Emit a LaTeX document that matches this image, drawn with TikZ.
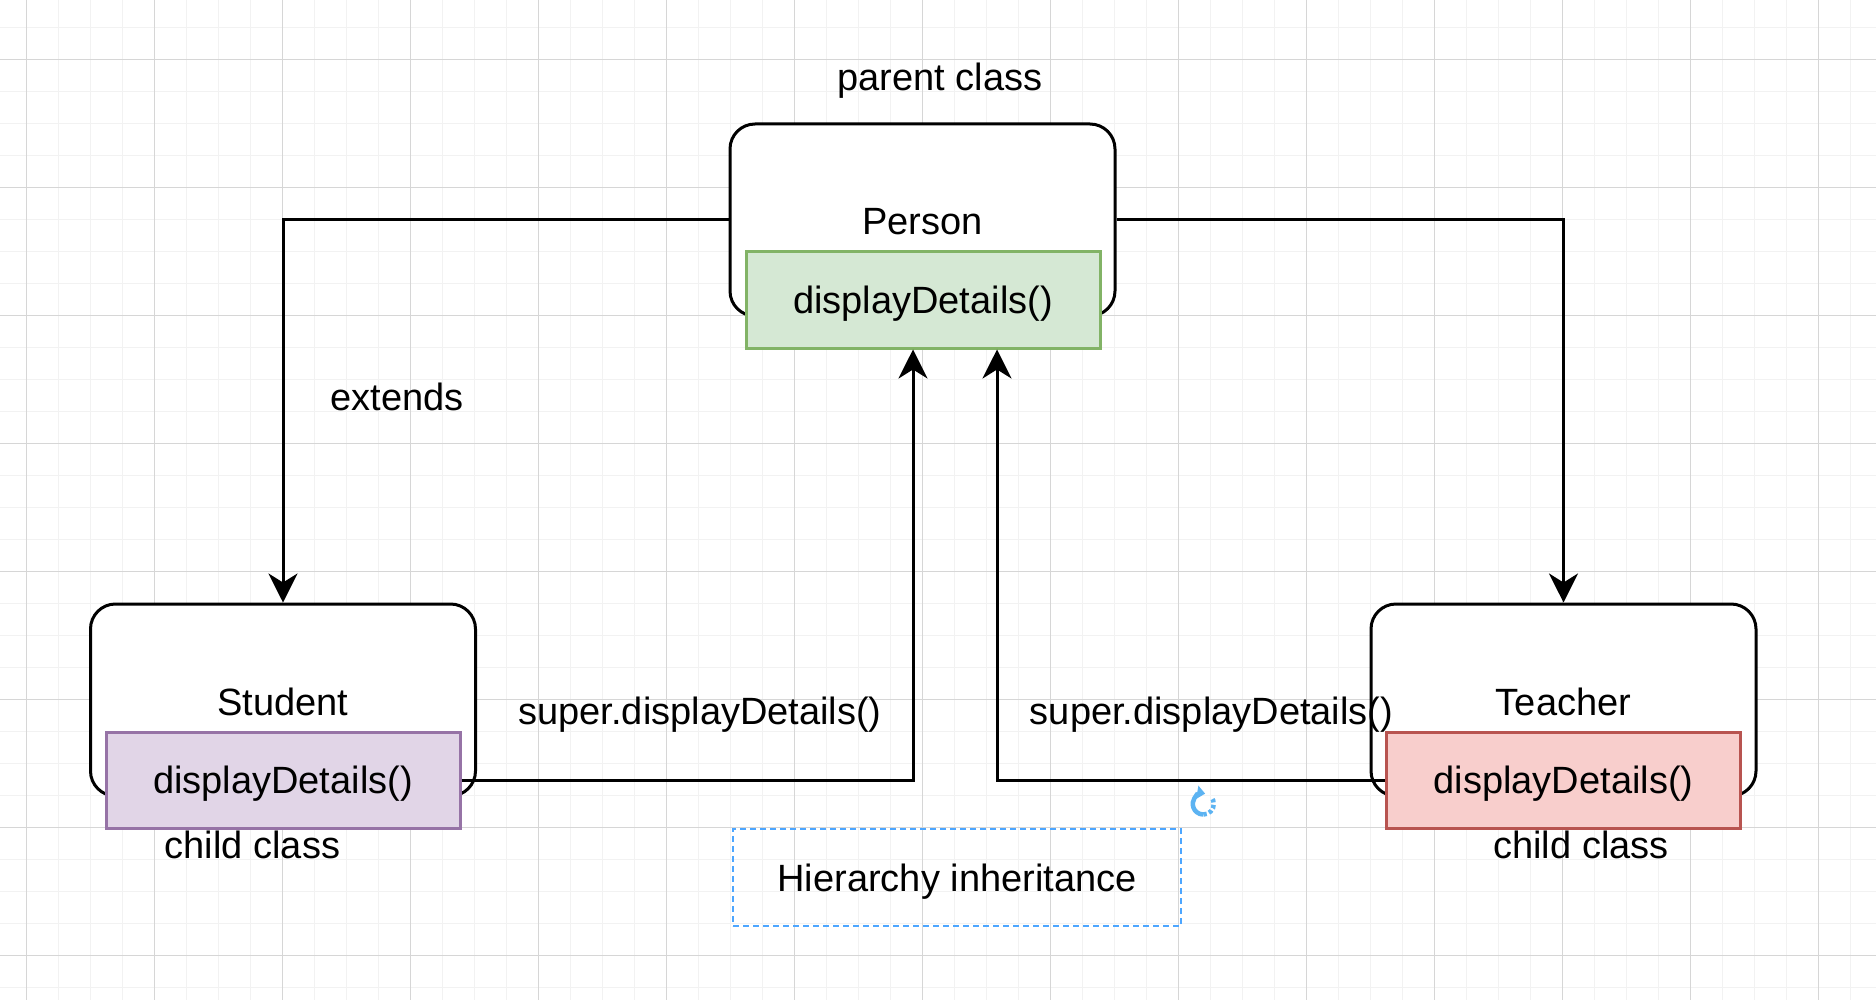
\documentclass[tikz,border=0pt]{standalone}
\usepackage{fontspec}
\setmainfont{Liberation Sans}
\usetikzlibrary{arrows.meta}

\definecolor{gridminor}{HTML}{F2F2F2}
\definecolor{gridmajor}{HTML}{D6D6D6}
\definecolor{greenfill}{HTML}{D5E8D4}
\definecolor{greenline}{HTML}{82B366}
\definecolor{purplefill}{HTML}{E1D5E7}
\definecolor{purpleline}{HTML}{9673A6}
\definecolor{redfill}{HTML}{F8CECC}
\definecolor{redline}{HTML}{B85450}
\definecolor{selblue}{HTML}{4DA6FF}
\definecolor{iconblue}{HTML}{5CB3F2}

\begin{document}
\begin{tikzpicture}[x=1pt,y=-1pt,
		every node/.style={font=\fontsize{38}{46}\selectfont, inner sep=0pt},
		classbox/.style={draw=black, line width=3pt, rounded corners=25pt, fill=white,
			minimum width=385pt, minimum height=192pt, text height=30pt, text depth=0pt},
		methodbox/.style={line width=3pt, minimum width=354pt, minimum height=96pt,
			text height=34pt, text depth=8pt},
		notebox/.style={draw=selblue, line width=2pt, dash pattern=on 6pt off 4pt,
			minimum width=448pt, minimum height=97pt, text height=35pt, text depth=8pt},
		arr/.style={draw=black, line width=3pt, -{Stealth[length=29pt,width=29pt,inset=9pt]}},
		lbl/.style={anchor=base}]
		\useasboundingbox (0,0) rectangle (1876,1000);
		\fill [white] (0,0) rectangle (1876,1000);
		% background grid
		\foreach \x in {-5.7,26.3,...,1880}
			\draw [gridminor, line width=1pt] (\x,0) -- (\x,1000);
		\foreach \y in {-4.7,27.3,...,1004}
			\draw [gridminor, line width=1pt] (0,\y) -- (1876,\y);
		\foreach \x in {26.3,154.3,...,1880}
			\draw [gridmajor, line width=1pt] (\x,0) -- (\x,1000);
		\foreach \y in {59.3,187.3,...,1004}
			\draw [gridmajor, line width=1pt] (0,\y) -- (1876,\y);
		% classes
		\node [classbox] (person) at (922.5,220) {Person};
		\node [classbox] (student) at (283,700) {Student};
		\node [classbox] (teacher) at (1563.5,700) {Teacher};
		\node [methodbox, draw=greenline, fill=greenfill] (personm) at (923,300) {displayDetails()};
		\node [methodbox, draw=purpleline, fill=purplefill] (studentm) at (283,780) {displayDetails()};
		\node [methodbox, draw=redline, fill=redfill] (teacherm) at (1563.5,780) {displayDetails()};
		% connectors
		\draw [arr] (person.west) -| (student.north);
		\draw [arr] (person.east) -| (teacher.north);
		\draw [arr] (studentm.east) -| ([xshift=-10pt]personm.south);
		\draw [arr] (teacherm.west) -| ([xshift=74pt]personm.south);
		% labels
		\node [lbl] (parentlbl) at (940,90.7) {parent class};
		\node [lbl] (extendslbl) at (397,410.7) {extends};
		\node [lbl] (superl) at (700,724) {super.displayDetails()};
		\node [lbl] (superr) at (1211.5,724) {super.displayDetails()};
		\node [lbl] (childl) at (252.5,858) {child class};
		\node [lbl] (childr) at (1581,858) {child class};
		\node [notebox] (note) at (957,877.5) {Hierarchy inheritance};
		% rotate handle
		\coordinate (rot) at (1203.3,804);
		\draw [iconblue, line width=4.5pt, {Triangle[length=8pt,width=13pt]}-] (rot) ++(-80:10.5) arc [start angle=-80, end angle=-270, radius=10.5];
		\draw [iconblue, line width=4.5pt, dash pattern=on 3.5pt off 2.5pt] (rot) ++(-270:10.5) arc [start angle=-270, end angle=-400, radius=10.5];
\end{tikzpicture}
\end{document}
